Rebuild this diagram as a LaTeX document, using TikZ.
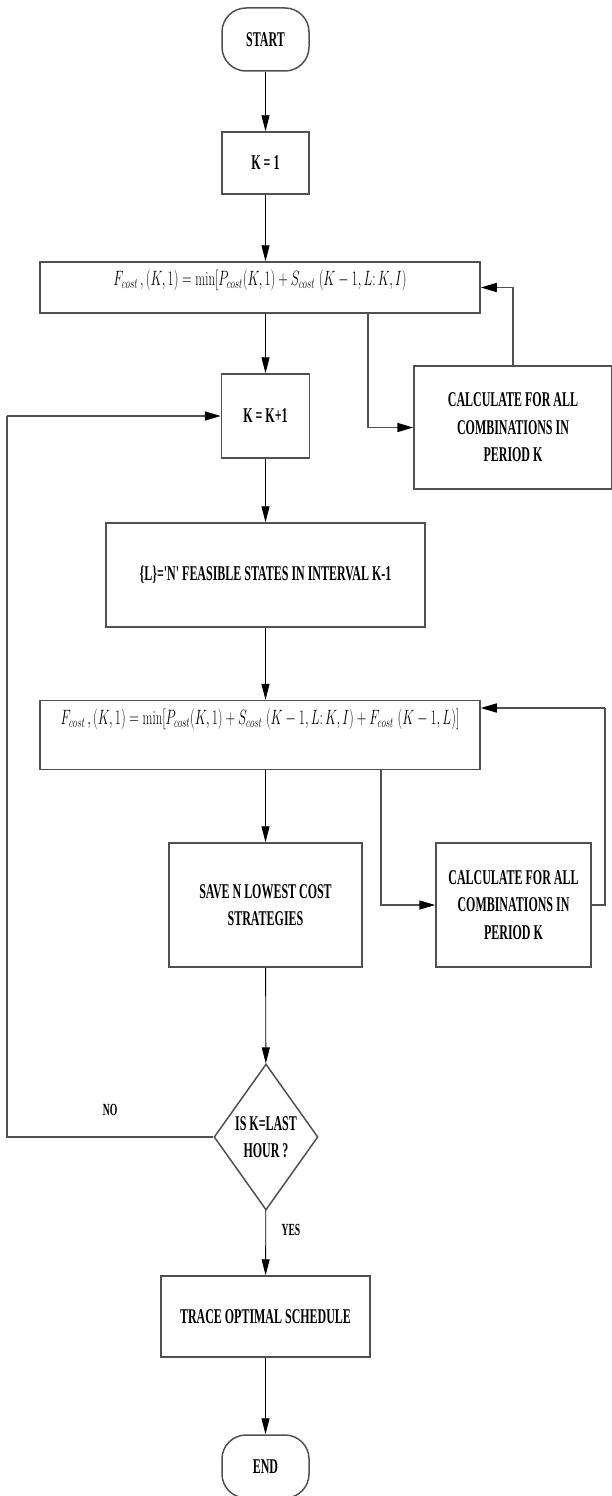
\documentclass[tikz,border=0pt]{standalone}
\usepackage{amsmath}
\usepackage{graphicx}
\usepackage{fontspec}
\newfontfamily\boxfont{Liberation Serif Bold}[FakeStretch=0.57]
\usetikzlibrary{arrows.meta,positioning,shapes.geometric}
\newcommand{\sqzmath}[1]{\scalebox{0.64}[1]{$#1$}}

\begin{document}
\begin{tikzpicture}[x=1pt, y=-1pt,
    every node/.style={font=\boxfont\fontsize{21}{27.5}\selectfont},
    box/.style 2 args={draw=bord, line width=1.5pt, minimum width=#1, minimum height=#2, inner sep=0pt, align=center},
    term/.style 2 args={box={#1}{#2}, rounded corners=24pt},
    decision/.style={draw=bord, line width=1.5pt, diamond, shape aspect=0.71, minimum width=104pt, minimum height=146pt, inner sep=0pt, align=center},
    formula/.style={font=\fontsize{20}{24}\selectfont, text height=18pt, text depth=#1},
    arr/.style={-{Triangle[length=16pt, width=8pt]}, line width=0.9pt, black},
    garr/.style={-{Triangle[length=16pt, width=9pt, black]}, line width=1.6pt, draw=bord},
    gline/.style={line width=1.6pt, draw=bord},
    lbl/.style={font=\boxfont\fontsize{17}{20}\selectfont},
  ]
    \definecolor{bord}{HTML}{505050}
    \useasboundingbox (0,0) rectangle (611,1496);

    % main column
    \node[term={87pt}{63pt}] (start) at (265.5,39.5) {START};
    \node[box={87pt}{62pt}] (k1) at (265.5,163) {K = 1};
    \node[box={440pt}{51pt}, formula=22pt] (f1) at (260,287.5)
      {\sqzmath{F_{cost}\,,(K,1) = \min[P_{cost}(K,1) + S_{cost}\ (K-1, L{:}\,K, I)}};
    \node[box={88pt}{84pt}] (k2) at (265.5,416) {K = K+1};
    \node[box={319pt}{104pt}] (feas) at (265.5,575) {\{L\}='N' FEASIBLE STATES IN INTERVAL K-1};
    \node[box={440pt}{69pt}, formula=40pt] (f2) at (260,735)
      {\sqzmath{F_{cost}\,,(K,1) = \min[P_{cost}(K,1) + S_{cost}\ (K-1, L{:}\,K, I) + F_{cost}\ (K-1, L)]}};
    \node[box={193pt}{124pt}] (save) at (265.5,905) {SAVE N LOWEST COST\\STRATEGIES};
    \node[decision] (dec) at (266,1137) {IS K=LAST\\HOUR ?};
    \node[box={209pt}{81pt}] (trace) at (265.5,1316.5) {TRACE OPTIMAL SCHEDULE};
    \node[term={87pt}{63pt}] (end) at (265.5,1466.5) {END};

    % side boxes
    \node[box={198pt}{123pt}] (calc1) at (513,427.5) {CALCULATE FOR ALL\\COMBINATIONS IN\\PERIOD K};
    \node[box={155pt}{124pt}] (calc2) at (513.5,905) {CALCULATE FOR ALL\\COMBINATIONS IN\\PERIOD K};

    \coordinate (loopc) at (7,416);
    \coordinate (f2rt) at (605,708);

    % main flow
    \draw[arr] (start) -- (k1);
    \draw[arr] (k1) -- (k1 |- f1.north);
    \draw[arr] (k1 |- f1.south) -- (k2);
    \draw[arr] (k2) -- (feas);
    \draw[arr] (feas) -- (feas |- f2.north);
    \draw[arr] (save |- f2.south) -- (save);
    \draw[arr] (save) -- (dec);
    \draw[arr] (dec) -- node[lbl, pos=0.3, anchor=west, xshift=12pt]{YES} (trace);
    \draw[arr] (trace) -- (end);

    % side loops
    \draw[garr] ([xshift=108pt]f1.south) |- (calc1.west);
    \draw[garr] (calc1.north) |- (f1.east);
    \draw[garr] ([xshift=121pt]f2.south) |- (calc2.west);
    \draw[gline] (calc2.east) -| (f2rt);
    \draw[garr] (f2rt) -- (f2rt -| f2.east);
    \draw[gline] (dec.west) -| node[lbl, pos=0.25, anchor=south, yshift=17pt]{NO} (loopc);
    \draw[garr] (loopc) -- (k2.west);
  \end{tikzpicture}
\end{document}
